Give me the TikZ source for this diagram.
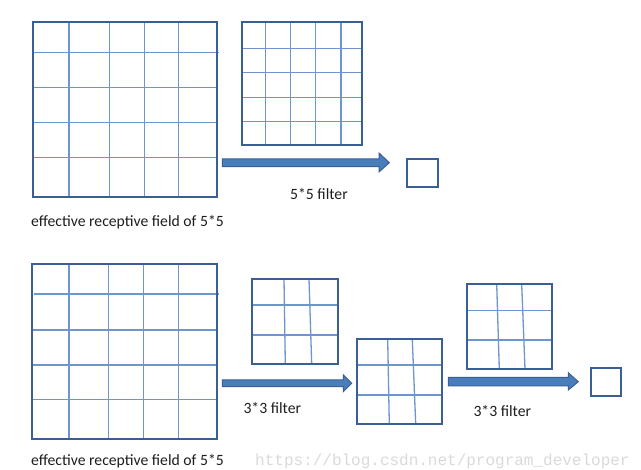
\documentclass[tikz,border=0pt]{standalone}
\usepackage{fontspec}
\setmainfont{Carlito}
\newfontfamily\wmfont{Liberation Mono}
\definecolor{outerblue}{HTML}{3A5F94}
\definecolor{innerblue}{HTML}{6E96CC}
\definecolor{arrowfill}{HTML}{4A7EBB}
\definecolor{txt}{HTML}{1E1E1E}
\definecolor{wm}{HTML}{DADADA}
\tikzset{
  outerbox/.style={draw=outerblue, line width=2.2pt},
  innerline/.style={draw=innerblue, line width=1.3pt},
  blockarrow/.style={fill=arrowfill, draw=outerblue, line width=1pt, line join=miter},
  lbl/.style={anchor=base west, inner sep=0pt, text=txt, font=\fontsize{15.7}{18}\selectfont},
}
\begin{document}
\begin{tikzpicture}[x=1pt,y=-1pt]
\useasboundingbox (0,0) rectangle (641,470);
\fill[white] (0,0) rectangle (641,470);

% ---------- top row ----------
% big 5x5 grid
\foreach \x in {69,109.3,144.3,178.7} \draw[innerline] (\x,21.7) -- (\x,196.7);
\draw[innerline] (32.7,52.7) -- (219,52.7);
\foreach \y in {87.7,122.7,157.7} \draw[innerline] (32.7,\y) -- (216.7,\y);
\draw[outerbox] (32.7,21.7) rectangle (216.7,196.7);

% small 5x5 grid
\foreach \x in {265.7,290.7,315.7,341} \draw[innerline] (\x,21.7) -- (\x,144.7);
\foreach \y in {48.3,72.3,97.3,121.7} \draw[innerline] (242.3,\y) -- (362.3,\y);
\draw[outerbox] (242.3,21.7) rectangle (362.3,144.7);

% arrow
\draw[blockarrow] (222.3,159) -- (379,159) -- (379,153) -- (389.3,162.7) -- (379,172) -- (379,166.7) -- (222.3,166.7) -- cycle;
% output square
\draw[outerbox] (406.7,159) rectangle (437.7,187.3);

\node[lbl] (f55) at (290,199.3) {5*5 filter};
\node[lbl] (erf1) at (31,227) {effective receptive field of 5*5};

% ---------- bottom row ----------
% big 5x5 grid
\foreach \x in {69,108.3,143.3,178.7} \draw[innerline] (\x,264) -- (\x,439.3);
\draw[innerline] (34,294) -- (219,294);
\foreach \y in {330,365,399.7} \draw[innerline] (31.7,\y) -- (216.7,\y);
\draw[outerbox] (31.7,264) rectangle (216.7,439.3);

% arrow 1
\draw[blockarrow] (222.3,380) -- (343.3,380) -- (343.3,375) -- (351.7,383.3) -- (343.3,391.7) -- (343.3,386.7) -- (222.3,386.7) -- cycle;

% grid A (3x3 filter)
\draw[innerline] (284,279) -- (285.3,364);
\draw[innerline] (309,279) -- (311.7,364);
\foreach \y in {305,335} \draw[innerline] (252.3,\y) -- (338.3,\y);
\draw[outerbox] (252.3,279) rectangle (338.3,364);

% grid B (3x3 map)
\draw[innerline] (387.7,339.3) -- (389.3,424);
\draw[innerline] (412.3,339.3) -- (415.7,424);
\foreach \y in {365,395} \draw[innerline] (356.7,\y) -- (442.3,\y);
\draw[outerbox] (356.7,339.3) rectangle (442.3,424);

% arrow 2
\draw[blockarrow] (448.3,377.3) -- (568.3,377.3) -- (568.3,372.7) -- (578.3,381.7) -- (568.3,390) -- (568.3,386) -- (448.3,386) -- cycle;

% grid C (3x3 filter)
\draw[innerline] (496.7,284) -- (499.3,369);
\draw[innerline] (521.7,284) -- (525,369);
\foreach \y in {310.7,340} \draw[innerline] (466.7,\y) -- (552.3,\y);
\draw[outerbox] (466.7,284) rectangle (552.3,369);

% output square
\draw[outerbox] (590.7,367.7) rectangle (621,396);

\node[lbl] (f33a) at (243.3,414) {3*3 filter};
\node[lbl] (f33b) at (473.3,416.7) {3*3 filter};
\node[lbl] (erf2) at (31,465.5) {effective receptive field of 5*5};

% watermark
\node[anchor=base west, inner sep=0pt, text=wm, font=\wmfont\fontsize{16}{19}\selectfont] (wmark) at (255,465.5) {https://blog.csdn.net/program\_developer};
\end{tikzpicture}
\end{document}
